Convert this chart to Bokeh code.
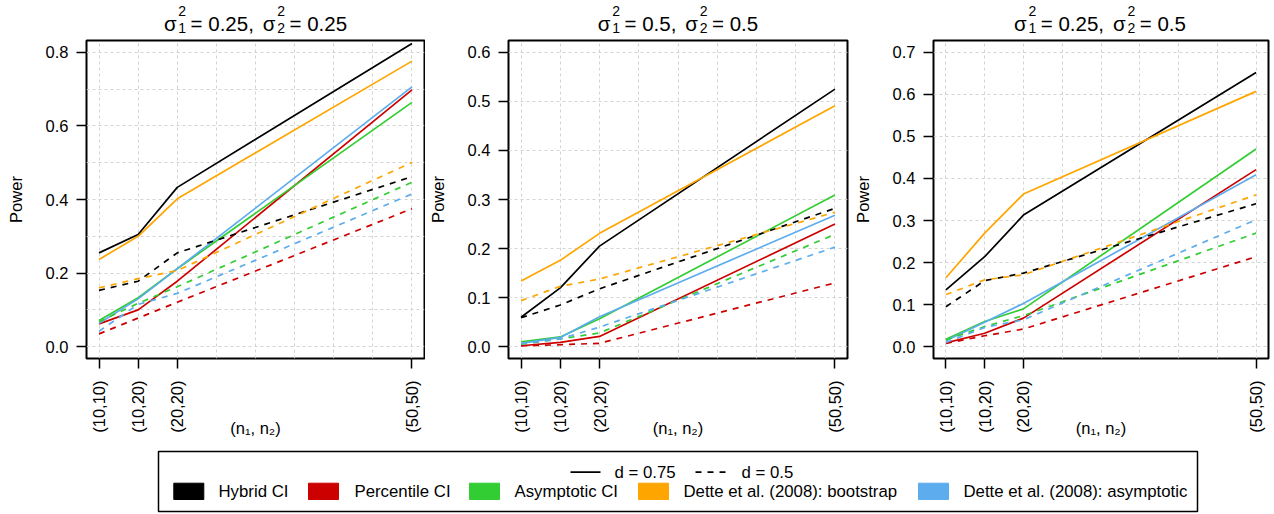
import math
from bokeh.plotting import figure
from bokeh.models import Range1d, FixedTicker, SingleIntervalTicker, PrintfTickFormatter
from bokeh.layouts import column, row
from bokeh.core.properties import value
from bokeh.embed import file_html
from bokeh.resources import INLINE

# ---------------- data ----------------
n_total = [20, 30, 40, 100]
tick_labels = ["(10,10)", "(10,20)", "(20,20)", "(50,50)"]
methods = ["Hybrid CI", "Percentile CI", "Asymptotic CI",
           "Dette et al. (2008): bootstrap", "Dette et al. (2008): asymptotic"]
colors = ["#000000", "#CD0000", "#32CD32", "#FFA500", "#5CACEE"]
d_labels = ["d = 0.75", "d = 0.5"]

sigma1 = ["0.25", "0.5", "0.25"]
sigma2 = ["0.25", "0.5", "0.5"]
y_max = [0.8, 0.6, 0.7]
y_label_step = [0.2, 0.1, 0.1]

# panel 1: sigma1^2 = 0.25, sigma2^2 = 0.25
p1_hybrid_075 = [0.255, 0.305, 0.433, 0.824]
p1_perc_075 = [0.062, 0.100, 0.178, 0.698]
p1_asym_075 = [0.071, 0.133, 0.212, 0.664]
p1_dboot_075 = [0.237, 0.300, 0.402, 0.776]
p1_dasym_075 = [0.064, 0.130, 0.212, 0.706]
p1_hybrid_050 = [0.153, 0.178, 0.255, 0.462]
p1_perc_050 = [0.035, 0.078, 0.121, 0.375]
p1_asym_050 = [0.068, 0.118, 0.163, 0.447]
p1_dboot_050 = [0.160, 0.185, 0.207, 0.501]
p1_dasym_050 = [0.042, 0.115, 0.145, 0.415]

# panel 2: sigma1^2 = 0.5, sigma2^2 = 0.5
p2_hybrid_075 = [0.060, 0.120, 0.205, 0.525]
p2_perc_075 = [0.002, 0.009, 0.021, 0.250]
p2_asym_075 = [0.010, 0.020, 0.057, 0.309]
p2_dboot_075 = [0.134, 0.176, 0.231, 0.491]
p2_dasym_075 = [0.007, 0.019, 0.061, 0.268]
p2_hybrid_050 = [0.059, 0.085, 0.118, 0.282]
p2_perc_050 = [0.002, 0.004, 0.007, 0.130]
p2_asym_050 = [0.005, 0.016, 0.028, 0.229]
p2_dboot_050 = [0.094, 0.123, 0.138, 0.274]
p2_dasym_050 = [0.006, 0.016, 0.040, 0.203]

# panel 3: sigma1^2 = 0.25, sigma2^2 = 0.5
p3_hybrid_075 = [0.135, 0.214, 0.313, 0.652]
p3_perc_075 = [0.009, 0.032, 0.068, 0.421]
p3_asym_075 = [0.018, 0.060, 0.090, 0.470]
p3_dboot_075 = [0.164, 0.270, 0.363, 0.607]
p3_dasym_075 = [0.014, 0.058, 0.103, 0.409]
p3_hybrid_050 = [0.095, 0.157, 0.175, 0.340]
p3_perc_050 = [0.008, 0.026, 0.042, 0.214]
p3_asym_050 = [0.016, 0.048, 0.074, 0.270]
p3_dboot_050 = [0.124, 0.159, 0.171, 0.361]
p3_dasym_050 = [0.010, 0.046, 0.064, 0.302]

panels_075 = [
    [p1_hybrid_075, p1_perc_075, p1_asym_075, p1_dboot_075, p1_dasym_075],
    [p2_hybrid_075, p2_perc_075, p2_asym_075, p2_dboot_075, p2_dasym_075],
    [p3_hybrid_075, p3_perc_075, p3_asym_075, p3_dboot_075, p3_dasym_075],
]
panels_050 = [
    [p1_hybrid_050, p1_perc_050, p1_asym_050, p1_dboot_050, p1_dasym_050],
    [p2_hybrid_050, p2_perc_050, p2_asym_050, p2_dboot_050, p2_dasym_050],
    [p3_hybrid_050, p3_perc_050, p3_asym_050, p3_dboot_050, p3_dasym_050],
]

# ---------------- style / layout ----------------
FONT = "Liberation Sans"
DASH = "6 6"
TOP = 38                     # height of the title strip
PANEL_W = [425, 425, 424]
BORDER_L = [86, 83, 81]
BORDER_R = [1, 3, 6]

W = {c: 0.556 for c in "0123456789"}
W.update({".": 0.278, ",": 0.278, " ": 0.278, "=": 0.584, "(": 0.333, ")": 0.333,
          "n": 0.556, "σ": 0.604})


def tw(s, size):
    return sum(W.get(c, 0.556) for c in s) * size


def make_panel(i):
    ymax = y_max[i]
    yr = Range1d(-0.04 * ymax, 1.04 * ymax)
    span = n_total[-1] - n_total[0]
    xr = Range1d(n_total[0] - 0.04 * span, n_total[-1] + 0.04 * span)
    p = figure(width=PANEL_W[i], height=440 - TOP, x_range=xr, y_range=yr,
               output_backend="svg", toolbar_location=None,
               min_border_left=BORDER_L[i], min_border_right=BORDER_R[i],
               min_border_top=40 - TOP, min_border_bottom=82)
    p.background_fill_color = "white"
    p.border_fill_color = "white"
    p.outline_line_color = "black"
    p.outline_line_width = 2
    p.outline_line_alpha = 1.0

    p.xgrid.ticker = SingleIntervalTicker(interval=10, num_minor_ticks=0)
    p.ygrid.ticker = SingleIntervalTicker(interval=0.1, num_minor_ticks=0)
    for g in (p.xgrid[0], p.ygrid[0]):
        g.grid_line_color = "#D3D3D3"
        g.grid_line_dash = "3 3"
        g.grid_line_width = 1

    p.xaxis.ticker = FixedTicker(ticks=n_total)
    p.xaxis.major_label_overrides = {n: lab for n, lab in zip(n_total, tick_labels)}
    p.xaxis.major_label_orientation = math.pi / 2
    p.xaxis.major_label_standoff = 12
    p.xaxis.axis_label = "(n\u2081, n\u2082)"
    p.xaxis.axis_label_standoff = -17
    p.yaxis.ticker = SingleIntervalTicker(interval=y_label_step[i], num_minor_ticks=0)
    p.yaxis.formatter = PrintfTickFormatter(format="%.1f")
    p.yaxis.major_label_standoff = 8
    p.yaxis.axis_label = "Power"
    p.yaxis.axis_label_standoff = 18
    for ax in (p.xaxis[0], p.yaxis[0]):
        ax.axis_line_color = None
        ax.major_tick_line_color = "black"
        ax.major_tick_line_width = 1.5
        ax.major_tick_out = 10
        ax.major_tick_in = 0
        ax.minor_tick_line_color = None
        ax.major_label_text_font = FONT
        ax.major_label_text_font_size = "16.5px"
        ax.major_label_text_color = "black"
        ax.axis_label_text_font = FONT
        ax.axis_label_text_font_size = "16.5px"
        ax.axis_label_text_font_style = "normal"
        ax.axis_label_text_color = "black"

    for vals, col in zip(panels_075[i], colors):
        p.line(n_total, vals, line_color=col, line_width=1.7)
    for vals, col in zip(panels_050[i], colors):
        p.line(n_total, vals, line_color=col, line_width=1.7, line_dash=DASH)
    return p


panels = [make_panel(i) for i in range(3)]

# ---------------- title strip (sigma_1^2 = ..., sigma_2^2 = ...) ----------------
tstrip = figure(width=1274, height=TOP, x_range=Range1d(0, 1274), y_range=Range1d(TOP, 0),
                output_backend="svg", toolbar_location=None,
                x_axis_location=None, y_axis_location=None,
                min_border_left=0, min_border_right=0, min_border_top=0, min_border_bottom=0)
tstrip.grid.visible = False
tstrip.outline_line_color = None
tstrip.background_fill_color = "white"
tstrip.border_fill_color = "white"

M, S = 20.5, 14
BASE, SUP, SUB = 23, 10, 27
tx, ty, tt, ts = [], [], [], []
x_left = 0
for i in range(3):
    frame_w = PANEL_W[i] - BORDER_L[i] - BORDER_R[i]
    centre = x_left + BORDER_L[i] + frame_w / 2
    x_left += PANEL_W[i]
    parts = []
    cx = 0.0
    for idx, sval, tail in (("1", sigma1[i], ","), ("2", sigma2[i], "")):
        parts.append(("σ", M, cx, BASE))
        sx = cx + tw("σ", M) + 2
        parts.append(("2", S, sx, SUP))
        parts.append((idx, S, sx, SUB))
        mx = sx + tw("2", S) + 4.5
        txt = "= " + sval + tail
        parts.append((txt, M, mx, BASE))
        cx = mx + tw(txt, M) + 9
    total = max(dx + tw(t, s) for t, s, dx, _ in parts)
    for t, s, dx, yy in parts:
        tx.append(centre - total / 2 + dx)
        ty.append(yy)
        tt.append(t)
        ts.append(f"{s}px")
tstrip.text(x=tx, y=ty, text=tt, text_font_size=ts, text_font=value(FONT),
            text_align="left", text_baseline="alphabetic", text_color="black")

# ---------------- legend ----------------
leg = figure(width=1274, height=74, x_range=Range1d(0, 1274), y_range=Range1d(74, 0),
             output_backend="svg", toolbar_location=None,
             x_axis_location=None, y_axis_location=None,
             min_border_left=0, min_border_right=0, min_border_top=0, min_border_bottom=0)
leg.grid.visible = False
leg.outline_line_color = None
leg.background_fill_color = "white"
leg.border_fill_color = "white"

leg.quad(left=[158], right=[1197], top=[11], bottom=[71],
         fill_color=None, line_color="black", line_width=1.5)

line_x0 = [570, 695]
line_tx = [614, 741]
for x0, tx0, lab, dash in zip(line_x0, line_tx, d_labels, ["solid", DASH]):
    leg.line([x0, x0 + 30], [31.7, 31.7], line_color="black", line_width=1.7, line_dash=dash)
    leg.text(x=[tx0], y=[31.7], text=[lab], text_font=value(FONT), text_font_size="16.8px",
             text_baseline="middle", text_align="left", text_color="black")

sw_x = [173.3, 308, 469, 638, 918]
tx_x = [218, 354, 514, 683, 963]
leg.quad(left=sw_x, right=[x + 30 for x in sw_x], top=[42.7] * 5, bottom=[59] * 5,
         fill_color=colors, line_color=colors, line_width=1)
leg.text(x=tx_x, y=[50.7] * 5, text=methods, text_font=value(FONT), text_font_size="16.8px",
         text_baseline="middle", text_align="left", text_color="black")

layout = column(tstrip, row(*panels), leg)
open("out.html", "w").write(file_html(layout, INLINE))
